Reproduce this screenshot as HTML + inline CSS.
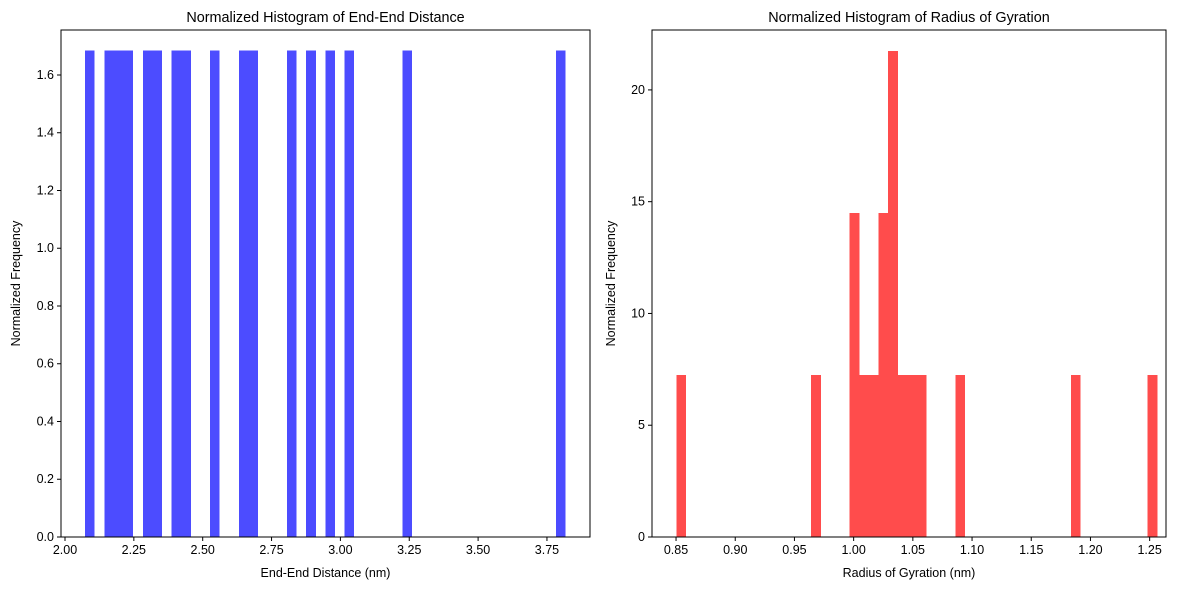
<!DOCTYPE html>
<html><head><meta charset="utf-8"><style>
body{margin:0;background:#fff;}
svg{display:block;font-family:"Liberation Sans","DejaVu Sans",sans-serif;}
</style></head><body>
<svg id="c" width="1189" height="590"></svg>
<script>
// Left histogram: End-End distance, 50 bins
const eeBinStart = 2.073;
const eeBinWidth = 0.0349;
const eeCounts = [1,0,1,1,1,0,1,1,0,1,1,0,0,1,0,0,1,1,0,0,0,1,0,1,0,1,0,1,0,0,0,0,0,1,0,0,0,0,0,0,0,0,0,0,0,0,0,0,0,1];
const eeTotal = 17;
const eeXTicks = [2.00,2.25,2.50,2.75,3.00,3.25,3.50,3.75];
const eeYTicks = [0,0.2,0.4,0.6,0.8,1.0,1.2,1.4,1.6];
// Right histogram: radius of gyration, 50 bins
const rgBinStart = 0.8505;
const rgBinWidth = 0.00812;
const rgCounts = [1,0,0,0,0,0,0,0,0,0,0,0,0,0,1,0,0,0,2,1,1,2,3,1,1,1,0,0,0,1,0,0,0,0,0,0,0,0,0,0,0,1,0,0,0,0,0,0,0,1];
const rgTotal = 17;
const rgXTicks = [0.85,0.90,0.95,1.00,1.05,1.10,1.15,1.20,1.25];
const rgYTicks = [0,5,10,15,20];

const svg = document.getElementById('c');
const NS = 'http://www.w3.org/2000/svg';
function mk(tag, attrs, parent){const e=document.createElementNS(NS,tag);for(const k in attrs)e.setAttribute(k,attrs[k]);(parent||svg).appendChild(e);return e;}

function panel(o){
  const g = mk('g',{});
  
  
  const sx = v => o.x0 + (v - o.xmin)/(o.xmax - o.xmin)*(o.x1 - o.x0);
  const sy = v => o.y1 - (v - 0)/(o.ymax)*(o.y1 - o.y0);
  o.counts.forEach((c,i)=>{
    if(!c) return;
    const h = c/(o.total*o.bw);
    const xl = sx(o.start + i*o.bw), xr = sx(o.start + (i+1)*o.bw);
    const r = mk('rect',{x:xl,y:sy(h),width:xr-xl,height:sy(0)-sy(h),fill:o.color,'fill-opacity':0.7,'shape-rendering':'crispEdges'},g);
    
    
  });
  const frame = mk('rect',{x:o.x0,y:o.y0,width:o.x1-o.x0,height:o.y1-o.y0,fill:'none',stroke:'#000','stroke-width':1},g);
  
  
  o.xticks.forEach(t=>{
    const x = sx(t);
    mk('line',{x1:x,x2:x,y1:o.y1,y2:o.y1+4,stroke:'#000'},g);
    const tx = mk('text',{x:x,y:o.y1+17,'font-size':12.5,'text-anchor':'middle',fill:'#000'},g);
    tx.textContent = t.toFixed(2);
    
    
  });
  o.yticks.forEach(t=>{
    const y = sy(t);
    mk('line',{x1:o.x0-4,x2:o.x0,y1:y,y2:y,stroke:'#000'},g);
    const tx = mk('text',{x:o.x0-7,y:y+4,'font-size':12.5,'text-anchor':'end',fill:'#000'},g);
    tx.textContent = o.yfmt(t);
    
    
  });
  const ti = mk('text',{x:(o.x0+o.x1)/2,y:o.y0-8,'font-size':14.4,'text-anchor':'middle'},g);
  ti.textContent = o.title;
  
  
  const xl = mk('text',{x:(o.x0+o.x1)/2,y:577,'font-size':12.5,'text-anchor':'middle'},g);
  xl.textContent = o.xlabel;
  
  
  const yc = (o.y0+o.y1)/2;
  const yl = mk('text',{x:o.ylx,y:yc,'font-size':12.5,'text-anchor':'middle',transform:`rotate(-90 ${o.ylx} ${yc})`},g);
  yl.textContent = 'Normalized Frequency';
  
  
}
panel({name:'end-end-histogram',x0:61,x1:590,y0:30,y1:537,xmin:1.9855,xmax:3.9063,ymax:1.7558,
  start:eeBinStart,bw:eeBinWidth,counts:eeCounts,total:eeTotal,color:'#0000ff',
  xticks:eeXTicks,yticks:eeYTicks,yfmt:t=>t.toFixed(1),
  title:'Normalized Histogram of End-End Distance',xlabel:'End-End Distance (nm)',ylx:20});
panel({name:'radius-of-gyration-histogram',x0:652,x1:1166,y0:30,y1:537,xmin:0.8297,xmax:1.2638,ymax:22.68,
  start:rgBinStart,bw:rgBinWidth,counts:rgCounts,total:rgTotal,color:'#ff0000',
  xticks:rgXTicks,yticks:rgYTicks,yfmt:t=>String(t),
  title:'Normalized Histogram of Radius of Gyration',xlabel:'Radius of Gyration (nm)',ylx:615});
</script>
</body></html>
